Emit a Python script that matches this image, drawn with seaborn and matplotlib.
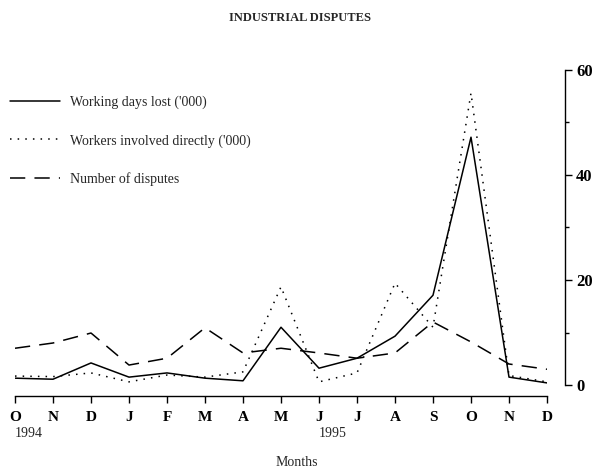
import matplotlib
matplotlib.use("Agg")
import matplotlib.pyplot as plt
import pandas as pd
import seaborn as sns
from matplotlib.ticker import MultipleLocator

# data, Oct 1994 - Dec 1995
months = ['O', 'N', 'D', 'J', 'F', 'M', 'A', 'M', 'J', 'J', 'A', 'S', 'O', 'N', 'D']
working_days_lost = [1.3, 1.1, 4.2, 1.5, 2.3, 1.3, 0.8, 11.0, 3.2, 5.1, 9.3, 17.1, 47.2, 1.5, 0.4]
workers_involved = [1.7, 1.6, 2.3, 0.6, 1.9, 1.5, 2.5, 18.7, 0.6, 2.3, 19.4, 11.0, 55.6, 1.8, 0.6]
num_disputes = [7.0, 8.0, 9.9, 3.8, 5.1, 10.9, 6.1, 7.0, 6.1, 5.1, 6.1, 12.0, 8.2, 4.0, 3.0]

df = pd.DataFrame({'idx': range(len(months)),
                   'wdl': working_days_lost,
                   'wid': workers_involved,
                   'nod': num_disputes})

sns.set_style('white')
plt.rcParams['font.family'] = ['Liberation Serif', 'DejaVu Serif']

fig = plt.figure(figsize=(5.98, 4.68), dpi=100)
ax = fig.add_axes([15/598, 83/468, 532/598, 315/468])

sns.lineplot(data=df, x='idx', y='wdl', ax=ax, color='black', lw=1.1,
             label="Working days lost ('000)")
sns.lineplot(data=df, x='idx', y='wid', ax=ax, color='black', lw=1.1,
             dashes=False, label="Workers involved directly ('000)")
ax.lines[-1].set_linestyle((0, (1, 4)))
sns.lineplot(data=df, x='idx', y='nod', ax=ax, color='black', lw=1.1,
             label='Number of disputes')
ax.lines[-1].set_linestyle((0, (10, 6)))

ax.set_xlim(0, 14)
ax.set_ylim(0, 60)

# axes styling: right y axis, bottom axis dropped a little
ax.spines['left'].set_visible(False)
ax.spines['top'].set_visible(False)
ax.spines['right'].set_position(('outward', 13))
ax.spines['bottom'].set_position(('outward', 8))
for s in ['right', 'bottom']:
    ax.spines[s].set_color('black')
    ax.spines[s].set_linewidth(1.0)

ax.yaxis.tick_right()
ax.yaxis.set_major_locator(MultipleLocator(20))
ax.yaxis.set_minor_locator(MultipleLocator(10))
ax.tick_params(axis='y', which='both', direction='out', length=5, width=1,
               colors='black', labelsize=12, pad=3, right=True, left=False)
ax.tick_params(axis='y', which='minor', length=3)
for t in ax.get_yticklabels():
    t.set_fontweight('bold')

ax.set_xticks(range(len(months)))
ax.set_xticklabels(months, fontsize=11, fontweight='bold')
ax.tick_params(axis='x', direction='out', length=5, width=1, colors='black',
               pad=6, bottom=True)

ax.set_xlabel('')
ax.set_ylabel('')

# year labels under the month ticks
ax.text(0, -0.155, '1994', transform=ax.get_xaxis_transform(), ha='left',
        va='center', fontsize=10)
ax.text(8, -0.155, '1995', transform=ax.get_xaxis_transform(), ha='left',
        va='center', fontsize=10)

fig.text(297/598, 1 - 462/468, 'Months', ha='center', va='center', fontsize=10)
fig.text(300/598, 1 - 18/468, 'INDUSTRIAL DISPUTES', ha='center', va='center',
         fontsize=9, fontweight='bold')

ax.legend(loc='upper left', bbox_to_anchor=(4/598, 1 - 90/468),
          bbox_transform=fig.transFigure, frameon=False, fontsize=10,
          handlelength=3.6, handletextpad=0.75, labelspacing=1.8,
          borderaxespad=0)

fig.savefig('out.png', dpi=100)
